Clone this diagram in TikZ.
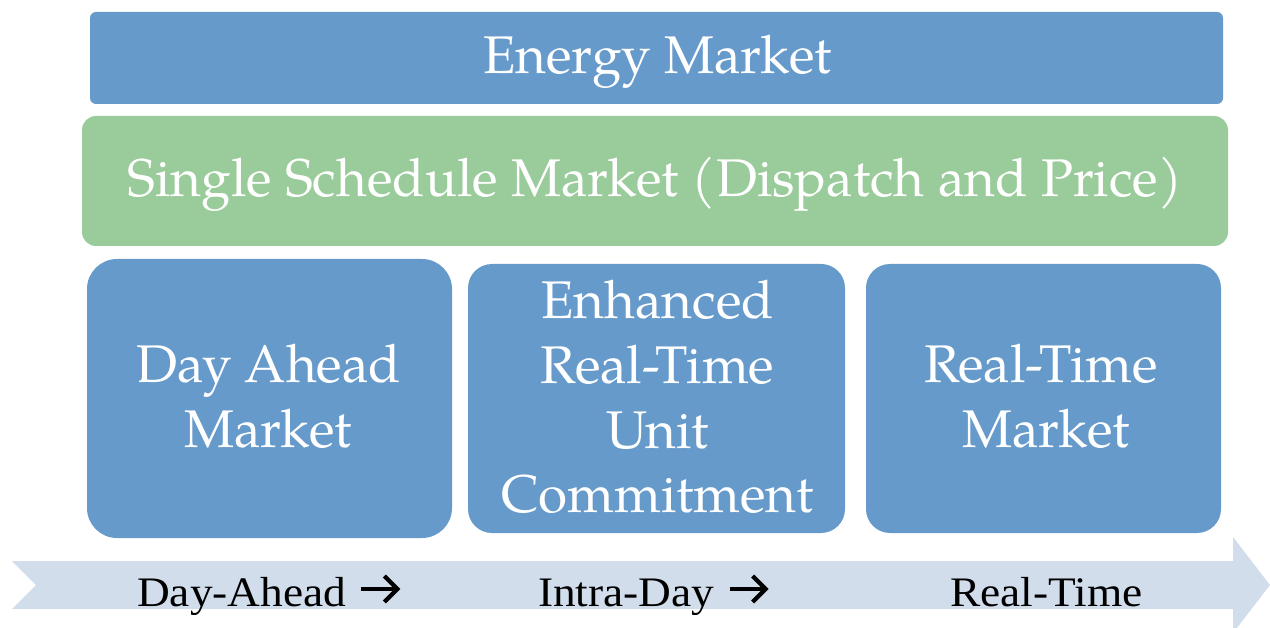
\documentclass[tikz,border=0pt]{standalone}
\usepackage{fontspec}
\setmainfont{TeX Gyre Pagella}
\newfontfamily\labelfont[FakeStretch=1.08]{Liberation Serif}
\definecolor{boxblue}{RGB}{102,154,203}
\definecolor{boxgreen}{RGB}{154,203,154}
\definecolor{arrowfill}{RGB}{209,221,235}
\begin{document}
\begin{tikzpicture}[x=1pt,y=-1pt,
  bx/.style={rectangle, rounded corners=#1, inner sep=0pt},
  bluebox/.style={bx=#1, fill=boxblue},
  greenbox/.style={bx=#1, fill=boxgreen},
  boxtext/.style={anchor=base, inner sep=0pt, text=white, font=\fontsize{53}{64}\selectfont},
  tlabel/.style={anchor=base west, inner sep=0pt, text=black, font=\labelfont\fontsize{42}{48}\selectfont},
  chev/.style={line width=4.2pt, black, miter limit=10}]
\useasboundingbox (0,0) rectangle (1270,628);
% boxes
\node[bluebox=6, minimum width=1133pt, minimum height=92pt] (energy) at (656.5,58) {};
\node[greenbox=14, minimum width=1146pt, minimum height=130pt] (single) at (655,181) {};
\node[bluebox=30, minimum width=365pt, minimum height=279pt] (dam) at (269.5,398.5) {};
\node[bluebox=24, minimum width=377pt, minimum height=269pt] (eruc) at (656.5,398.5) {};
\node[bluebox=24, minimum width=355pt, minimum height=269pt] (rtm) at (1043.5,398.5) {};
% box texts
\node[boxtext] (energyT) at (657.5,74) {Energy Market};
\node[boxtext] (singleT) at (655,197) {Single Schedule Market (Dispatch and Price)};
\node[boxtext] (damA) at (269,383) {Day Ahead};
\node[boxtext] (damB) at (268,447) {Market};
\node[boxtext] (erucA) at (657.5,319) {Enhanced};
\node[boxtext] (erucB) at (657.5,384) {Real-Time};
\node[boxtext] (erucC) at (657.5,448) {Unit};
\node[boxtext] (erucD) at (657.5,512) {Commitment};
\node[boxtext] (rtmA) at (1041,383) {Real-Time};
\node[boxtext] (rtmB) at (1046,447) {Market};
% timeline arrow
\fill[arrowfill] (12,561) -- (1233,561) -- (1233,537) -- (1270,585) -- (1233,633) -- (1233,609) -- (12,609) -- (36,585) -- cycle;
\node[tlabel] (l1) at (137,606) {Day-Ahead};
\node[tlabel] (l2) at (538,606) {Intra-Day};
\node[tlabel] (l3) at (950,606) {Real-Time};
\path ([xshift=15pt,yshift=17pt]l1.base east) coordinate (a1);
\path ([xshift=15pt,yshift=17pt]l2.base east) coordinate (a2);
\draw[chev] (a1) -- ++(37,0);
\draw[chev] ([xshift=23pt,yshift=13pt]a1) -- ([xshift=36pt]a1) -- ([xshift=23pt,yshift=-13pt]a1);
\draw[chev] (a2) -- ++(37,0);
\draw[chev] ([xshift=23pt,yshift=13pt]a2) -- ([xshift=36pt]a2) -- ([xshift=23pt,yshift=-13pt]a2);
\end{tikzpicture}
\end{document}
